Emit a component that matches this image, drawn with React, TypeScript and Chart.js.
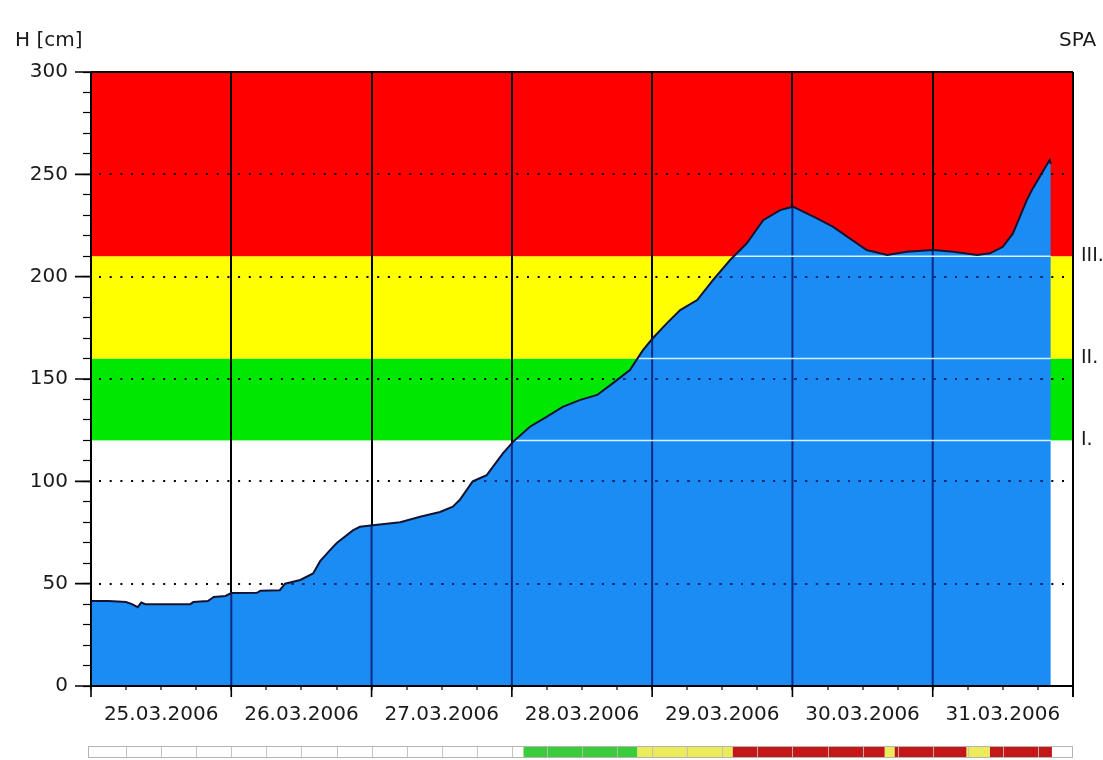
import React, { useEffect, useRef } from "react";
import { Chart, registerables } from "chart.js";

Chart.register(...registerables);

// ---- data ----
const hours = [
  0, 3, 6, 7, 8, 8.6, 9.3, 13, 17, 17.5, 20, 21, 23, 24, 28.4, 29, 32.3, 33.2, 35.8, 38,
  39.2, 41.4, 42.1, 44.8, 46, 48.2, 52.9, 56.3, 59.7, 61.9, 63.1, 65.3, 66.5, 67.7, 70.5,
  72.2, 75.1, 78, 80.7, 83.6, 86.6, 89.3, 92.2, 94.4, 96.1, 98.5, 100.8, 103.7, 106.4,
  109.3, 112.2, 115, 117.9, 120.1, 121.3, 124.2, 126.9, 129.8, 132.7, 136.2, 139.6, 144,
  147.5, 151.6, 153.8, 156, 157.7, 160.1, 161.1, 164, 164.2,
];
const levels = [
  41.5, 41.5, 41, 40, 38.5, 40.8, 40, 40, 40, 41, 41.5, 43.5, 44, 45.4, 45.5, 46.6, 46.8, 50,
  51.8, 55, 61, 68, 70, 76, 77.8, 78.5, 80, 82.7, 85, 87.6, 91, 100, 101.5, 103, 113.8,
  119.3, 126.7, 131.6, 136.4, 139.7, 142.2, 148, 154.4, 164, 169.9, 177.2, 183.7, 188.6,
  198.3, 208, 216.3, 227.6, 232.5, 234.2, 232.5, 228.5, 224.4, 218.7, 213, 210.6, 212.2,
  213, 212.2, 210.6, 211.4, 214.6, 221, 237.4, 243, 257, 255,
];
const dayLabels = [
  "25.03.2006", "26.03.2006", "27.03.2006", "28.03.2006",
  "29.03.2006", "30.03.2006", "31.03.2006",
];
const bandLow = [120, 160, 210];
const bandHigh = [160, 210, 300];
const bandNames = ["I.", "II.", "III."];
const dottedLevels = [50, 100, 150, 200, 250];
const statusFrom = [0, 74, 93.5, 109.8, 135.8, 137.5, 149.8, 153.8, 164.4];
const statusTo = [74, 93.5, 109.8, 135.8, 137.5, 149.8, 153.8, 164.4, 168];
const statusLevel = [0, 1, 2, 3, 2, 3, 2, 3, 0];

// ---- styles ----
const bandColors = ["#00e800", "#ffff00", "#ff0000"];
const statusColors = ["#ffffff", "#3acc3a", "#ecec5a", "#c41616"];
const FONT = "'DejaVu Sans', sans-serif";
const BLUE = "#1a8cf4";
const NAVY = "#0c2a86";

const decor = {
  id: "decor",
  beforeDraw(chart: any) {
    const { ctx, chartArea: a, scales } = chart;
    const y = scales.y;
    ctx.save();
    ctx.fillStyle = "#ffffff";
    ctx.fillRect(0, 0, chart.width, chart.height);
    for (let i = 0; i < bandLow.length; i++) {
      const t = y.getPixelForValue(bandHigh[i]);
      const b = y.getPixelForValue(bandLow[i]);
      ctx.fillStyle = bandColors[i];
      ctx.fillRect(a.left, t, a.right - a.left, b - t);
    }
    ctx.restore();
  },
  afterDatasetDraw(chart: any, args: any) {
    if (args.index !== 0) return;
    const { ctx, chartArea: a, scales } = chart;
    const x = scales.x;
    const y = scales.y;
    const drawDots = (color: string) => {
      ctx.save();
      ctx.strokeStyle = color;
      ctx.lineWidth = 2;
      ctx.setLineDash([2, 8.7]);
      for (const v of dottedLevels) {
        const py = Math.round(y.getPixelForValue(v));
        ctx.beginPath();
        ctx.moveTo(a.left + 8, py);
        ctx.lineTo(a.right, py);
        ctx.stroke();
      }
      ctx.restore();
    };
    const clipUnder = () => {
      const pts = chart.getDatasetMeta(0).data;
      const base = y.getPixelForValue(0);
      ctx.beginPath();
      ctx.moveTo(pts[0].x, base);
      for (const p of pts) ctx.lineTo(p.x, p.y);
      ctx.lineTo(pts[pts.length - 1].x, base);
      ctx.closePath();
      ctx.clip();
    };
    drawDots("#000000");
    ctx.save();
    clipUnder();
    ctx.strokeStyle = NAVY;
    ctx.lineWidth = 2;
    for (let h = 24; h < 168; h += 24) {
      const px = x.getPixelForValue(h);
      ctx.beginPath();
      ctx.moveTo(px, a.top);
      ctx.lineTo(px, a.bottom);
      ctx.stroke();
    }
    ctx.strokeStyle = "#d4f2ff";
    ctx.lineWidth = 1.5;
    for (const v of bandLow) {
      const py = y.getPixelForValue(v);
      ctx.beginPath();
      ctx.moveTo(a.left, py);
      ctx.lineTo(a.right, py);
      ctx.stroke();
    }
    ctx.restore();
    ctx.save();
    clipUnder();
    drawDots(NAVY);
    ctx.restore();
  },
  afterDraw(chart: any) {
    const { ctx, chartArea: a, scales } = chart;
    const x = scales.x;
    const y = scales.y;
    ctx.save();
    ctx.strokeStyle = "#000000";
    ctx.lineWidth = 1.8;
    ctx.beginPath();
    ctx.moveTo(a.left, a.top);
    ctx.lineTo(a.right, a.top);
    ctx.moveTo(a.right, a.top);
    ctx.lineTo(a.right, a.bottom + 11);
    ctx.moveTo(a.left, a.top);
    ctx.lineTo(a.left, a.bottom);
    ctx.moveTo(a.left, a.bottom);
    ctx.lineTo(a.right, a.bottom);
    ctx.stroke();
    ctx.lineWidth = 1.6;
    ctx.beginPath();
    for (const v of [0, 50, 100, 150, 200, 250, 300]) {
      const py = y.getPixelForValue(v);
      ctx.moveTo(a.left - 16, py);
      ctx.lineTo(a.left, py);
    }
    for (let h = 0; h <= 168; h += 24) {
      const px = x.getPixelForValue(h);
      ctx.moveTo(px, a.bottom);
      ctx.lineTo(px, a.bottom + 11);
    }
    ctx.stroke();
    ctx.fillStyle = "#1a1a1a";
    ctx.textBaseline = "middle";
    ctx.font = `20px ${FONT}`;
    ctx.textAlign = "left";
    ctx.fillText("H [cm]", 15, 41);
    ctx.fillText("SPA", 1059, 41);
    ctx.font = `19px ${FONT}`;
    for (let i = 0; i < bandLow.length; i++) {
      const py = y.getPixelForValue(bandLow[i]);
      ctx.fillText(bandNames[i], a.right + 8, py);
    }
    const sy = 747;
    const sh = 10;
    for (let i = 0; i < statusFrom.length; i++) {
      const x0 = x.getPixelForValue(statusFrom[i]);
      const x1 = x.getPixelForValue(statusTo[i]);
      ctx.fillStyle = statusColors[statusLevel[i]];
      ctx.fillRect(x0, sy, x1 - x0, sh);
    }
    ctx.strokeStyle = "rgba(190,190,190,0.9)";
    ctx.lineWidth = 1;
    ctx.beginPath();
    for (let h = 6; h < 168; h += 6) {
      const px = Math.round(x.getPixelForValue(h)) + 0.5;
      ctx.moveTo(px, sy);
      ctx.lineTo(px, sy + sh);
    }
    ctx.stroke();
    ctx.strokeStyle = "#b4b4b4";
    ctx.strokeRect(a.left - 2.5, sy - 0.5, a.right - a.left + 2, sh + 1);
    ctx.restore();
  },
};

export default function App() {
  const ref = useRef<HTMLCanvasElement | null>(null);
  useEffect(() => {
    if (!ref.current) return;
    const points = hours.map((h, i) => ({ x: h, y: levels[i] }));
    const tickFont = { family: FONT, size: 20 };
    const chart = new Chart(ref.current, {
      type: "line",
      data: {
        datasets: [
          {
            data: points,
            fill: "origin",
            backgroundColor: BLUE,
            borderColor: "rgba(0,0,0,0)",
            borderWidth: 1,
            pointRadius: 0,
            tension: 0,
            order: 2,
          },
          {
            data: points,
            fill: false,
            borderColor: "#141432",
            borderWidth: 2,
            pointRadius: 0,
            tension: 0,
            order: 1,
          },
        ],
      },
      options: {
        animation: false,
        responsive: false,
        devicePixelRatio: 1,
        layout: { padding: { left: 0, top: 72, right: 30, bottom: 0 } },
        plugins: { legend: { display: false }, tooltip: { enabled: false } },
        scales: {
          x: {
            type: "linear",
            min: 0,
            max: 168,
            afterFit: (s: any) => {
              s.height = 74;
            },
            ticks: {
              stepSize: 6,
              autoSkip: false,
              maxRotation: 0,
              minRotation: 0,
              padding: 13,
              color: "#1a1a1a",
              font: tickFont,
              callback: (v: any) => (Number(v) % 24 === 12 ? dayLabels[(Number(v) - 12) / 24] : ""),
            },
            grid: {
              color: (c: any) => (c.tick && c.tick.value % 24 === 0 ? "#000000" : "rgba(0,0,0,0)"),
              lineWidth: 2,
              tickLength: 4,
              tickColor: "#000000",
              tickWidth: 1.2,
            },
            border: { display: false },
          },
          y: {
            type: "linear",
            min: 0,
            max: 300,
            afterFit: (s: any) => {
              s.width = 91;
            },
            ticks: {
              stepSize: 10,
              autoSkip: false,
              padding: 15,
              color: "#1a1a1a",
              font: tickFont,
              callback: (v: any) => (Number(v) % 50 === 0 ? String(v) : ""),
            },
            grid: {
              drawOnChartArea: false,
              tickLength: 8,
              tickColor: "#000000",
              tickWidth: 1.2,
            },
            border: { display: false },
          },
        },
      },
      plugins: [decor],
    });
    return () => chart.destroy();
  }, []);
  return (
    <div style={{ position: "absolute", left: 0, top: 0, width: 1103, height: 760, background: "#fff" }}>
      <canvas ref={ref} width={1103} height={760} style={{ display: "block" }} />
    </div>
  );
}
